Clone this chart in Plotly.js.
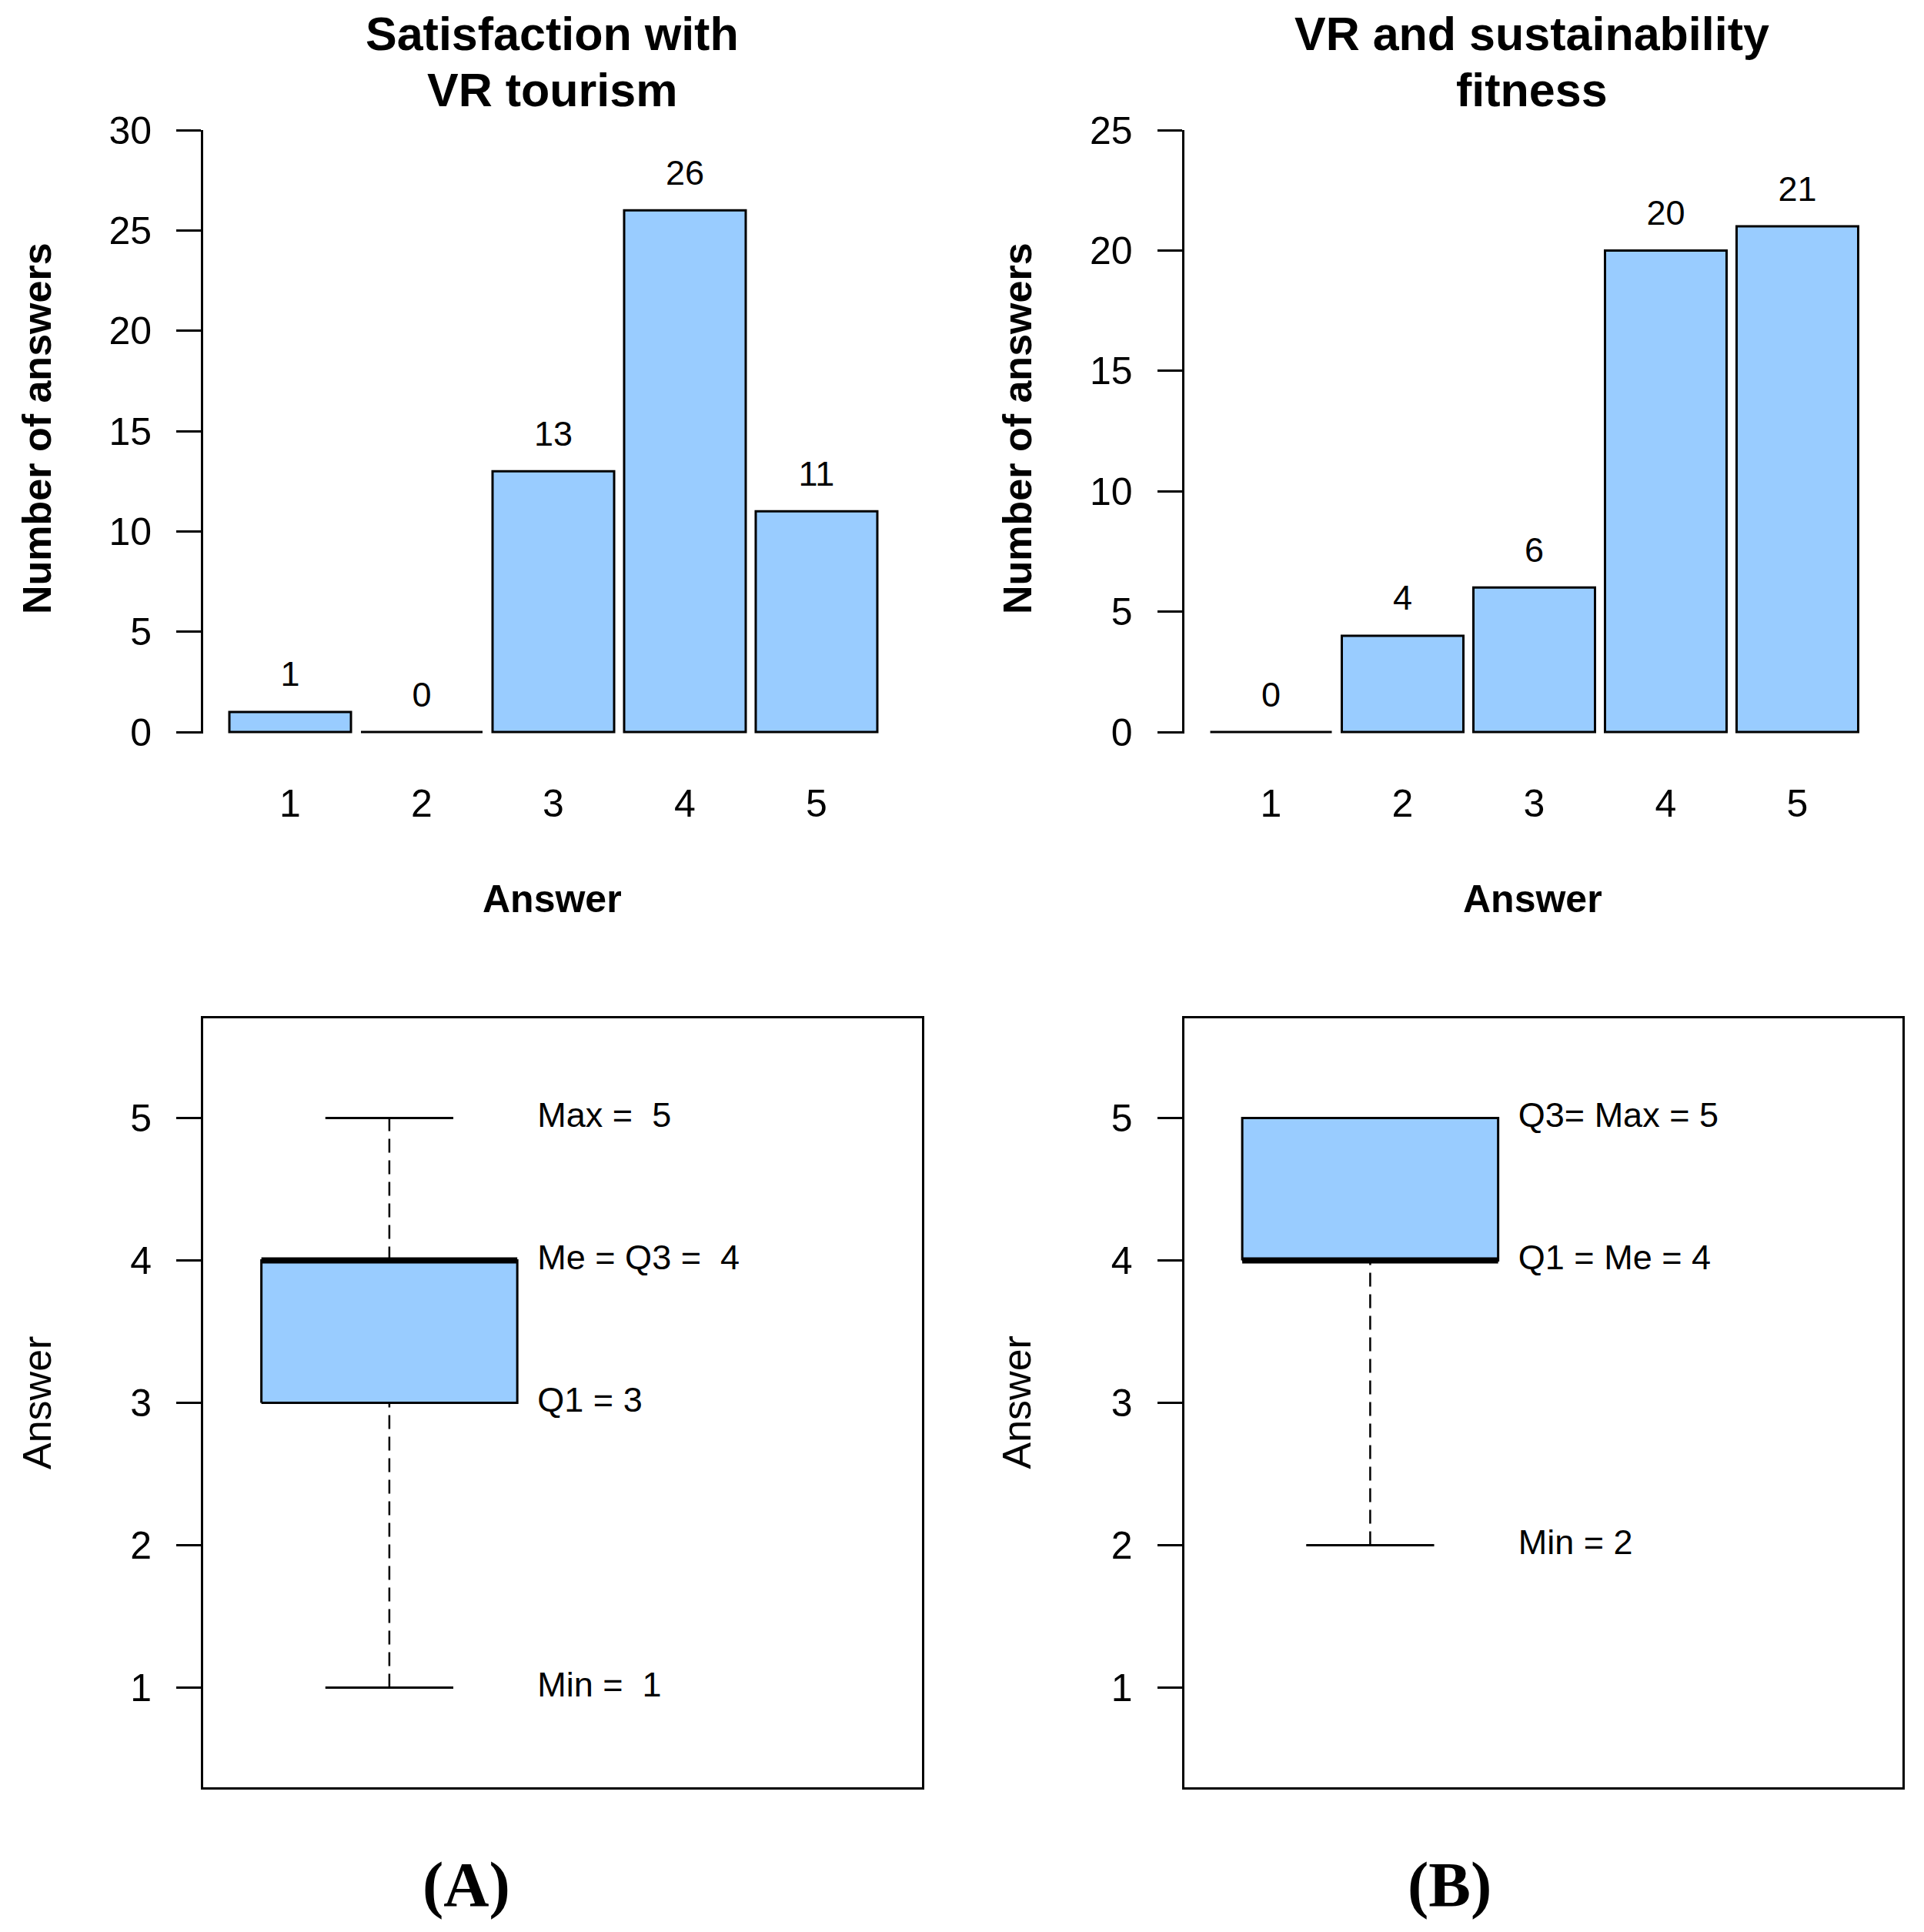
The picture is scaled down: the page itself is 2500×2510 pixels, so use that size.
<!DOCTYPE html>
<html>
<head>
<meta charset="utf-8">
<script src="https://cdn.plot.ly/plotly-3.0.1.min.js"></script>
<style>html,body{margin:0;padding:0;background:#fff;}</style>
</head>
<body>
<div id="chart" style="width:2500px;height:2510px;"></div>
<script>
// ---------- data ----------
const answers = [1, 2, 3, 4, 5];
const countsA = [1, 0, 13, 26, 11];
const countsB = [0, 4, 6, 20, 21];
const yTicksA = [0, 5, 10, 15, 20, 25, 30];
const yTicksB = [0, 5, 10, 15, 20, 25];
const boxTicks = [1, 2, 3, 4, 5];
// box statistics: [min, q1, median, q3, max]
const boxA = [1, 3, 4, 4, 5];
const boxB = [2, 4, 4, 5, 5];
const labelPrefixA = ["Max =\u00a0 ", "Me = Q3 =\u00a0 ", "Q1 = ", "Min =\u00a0 "];
const labelStatA = [4, 2, 1, 0];
const labelPrefixB = ["Q3= Max = ", "Q1 = Me = ", "Min = "];
const labelStatB = [4, 2, 0];
const titleLinesA = ["Satisfaction with", "VR tourism"];
const titleLinesB = ["VR and sustainability", "fitness"];

// ---------- style ----------
const FONT = "Liberation Sans, Arial, sans-serif";
const FILL = "#99CCFF";
const W = 2500, H = 2510;
const px = v => v / W;
const py = v => 1 - v / H;

function barTraces(counts, xa, ya) {
  return [
    {type: "bar", x: answers, y: counts, xaxis: xa, yaxis: ya,
     marker: {color: FILL, line: {color: "#000", width: 3}},
     hoverinfo: "skip", showlegend: false},
    {type: "scatter", mode: "markers+text", x: answers, y: counts, xaxis: xa, yaxis: ya,
     text: counts.map(String), textposition: "top center",
     textfont: {family: FONT, size: 45, color: "#000"},
     marker: {size: 34, color: "rgba(0,0,0,0)"}, cliponaxis: false,
     hoverinfo: "skip", showlegend: false}
  ];
}

function boxTraces(s, prefixes, idx, xa, ya) {
  const c = 1, hw = 0.4, cw = 0.2, lx = 1.463;
  const [mn, q1, md, q3, mx] = s;
  const common = {type: "scatter", mode: "lines", xaxis: xa, yaxis: ya, hoverinfo: "skip", showlegend: false};
  return [
    Object.assign({}, common, {x: [c, c], y: [q3, mx], line: {color: "#000", width: 2.5, dash: "18px,10px"}}),
    Object.assign({}, common, {x: [c, c], y: [mn, q1], line: {color: "#000", width: 2.5, dash: "18px,10px"}}),
    Object.assign({}, common, {x: [c - cw, c + cw], y: [mx, mx], line: {color: "#000", width: 3}}),
    Object.assign({}, common, {x: [c - cw, c + cw], y: [mn, mn], line: {color: "#000", width: 3}}),
    Object.assign({}, common, {x: [c - hw, c + hw, c + hw, c - hw, c - hw], y: [q1, q1, q3, q3, q1],
      fill: "toself", fillcolor: FILL, line: {color: "#000", width: 3}}),
    Object.assign({}, common, {x: [c - hw, c + hw], y: [md, md], line: {color: "#000", width: 8}}),
    {type: "scatter", mode: "text", xaxis: xa, yaxis: ya,
     x: idx.map(() => lx), y: idx.map(i => s[i]),
     text: idx.map((i, k) => prefixes[k] + s[i]), textposition: "middle right",
     textfont: {family: FONT, size: 45, color: "#000"}, cliponaxis: false,
     hoverinfo: "skip", showlegend: false}
  ];
}

const traces = [].concat(
  barTraces(countsA, "x", "y"),
  barTraces(countsB, "x2", "y2"),
  boxTraces(boxA, labelPrefixA, labelStatA, "x3", "y3"),
  boxTraces(boxB, labelPrefixB, labelStatB, "x4", "y4")
);

const tickFont = {family: FONT, size: 50, color: "#000"};
function barX(domain, anchor) {
  return {domain: domain, anchor: anchor, range: [0.339, 5.661], tickvals: answers, ticktext: answers.map(String),
    ticks: "", ticklen: 0, showline: false, showgrid: false, zeroline: false,
    tickfont: tickFont, ticklabelstandoff: 57, fixedrange: true};
}
function barY(domain, anchor, range, ticks) {
  return {domain: domain, anchor: anchor, range: range, tickvals: ticks, ticks: "outside", ticklen: 32, tickwidth: 3,
    tickcolor: "#000", showline: true, linecolor: "#000", linewidth: 3, showgrid: false, zeroline: false,
    tickfont: tickFont, ticklabelstandoff: 22, fixedrange: true};
}
function boxX(domain, anchor) {
  return {domain: domain, anchor: anchor, range: [0.418, 2.664], showticklabels: false, ticks: "", showline: true,
    mirror: true, linecolor: "#000", linewidth: 3, showgrid: false, zeroline: false, fixedrange: true};
}
function boxY(domain, anchor) {
  return {domain: domain, anchor: anchor, range: [0.3, 5.7], tickvals: boxTicks, ticks: "outside", ticklen: 32, tickwidth: 3,
    tickcolor: "#000", showline: true, mirror: true, linecolor: "#000", linewidth: 3, showgrid: false,
    zeroline: false, tickfont: tickFont, ticklabelstandoff: 22, fixedrange: true};
}

const topY = [py(953.1), py(169)];
const botY = [py(2322), py(1323)];

function ann(text, x, y, size, bold, angle, family) {
  return {text: bold ? "<b>" + text + "</b>" : text, x: x, y: y, xref: "paper", yref: "paper",
    xanchor: "center", yanchor: "middle", showarrow: false, textangle: angle || 0,
    font: {family: family || FONT, size: size, color: "#000"}};
}

const layout = {
  width: W, height: H, margin: {l: 0, r: 0, t: 0, b: 0},
  paper_bgcolor: "#fff", plot_bgcolor: "rgba(0,0,0,0)",
  showlegend: false, bargap: 0.076,
  xaxis: barX([px(264), px(1174)], "y"),
  yaxis: barY(topY, "x", [-0.08, 30], yTicksA),
  xaxis2: barX([px(1538.5), px(2448.5)], "y2"),
  yaxis2: barY(topY, "x2", [-0.0667, 25], yTicksB),
  xaxis3: boxX([px(264), px(1197.5)], "y3"),
  yaxis3: boxY(botY, "x3"),
  xaxis4: boxX([px(1538.5), px(2472)], "y4"),
  yaxis4: boxY(botY, "x4"),
  annotations: [
    ann(titleLinesA[0], px(717), py(44), 61, true),
    ann(titleLinesA[1], px(717), py(117), 61, true),
    ann(titleLinesB[0], px(1990), py(44), 61, true),
    ann(titleLinesB[1], px(1990), py(117), 61, true),
    ann("Number of answers", px(48), py(557), 52, true, -90),
    ann("Number of answers", px(1322), py(557), 52, true, -90),
    ann("Answer", px(717), py(1168), 50, true),
    ann("Answer", px(1991), py(1168), 50, true),
    ann("Answer", px(48), py(1822), 52, false, -90),
    ann("Answer", px(1320.5), py(1822), 52, false, -90),
    ann("(A)", px(606), py(2448), 82, true, 0, "Liberation Serif, Times New Roman, serif"),
    ann("(B)", px(1883), py(2448), 82, true, 0, "Liberation Serif, Times New Roman, serif")
  ]
};

Plotly.newPlot("chart", traces, layout, {staticPlot: true, displayModeBar: false});
</script>
</body>
</html>
